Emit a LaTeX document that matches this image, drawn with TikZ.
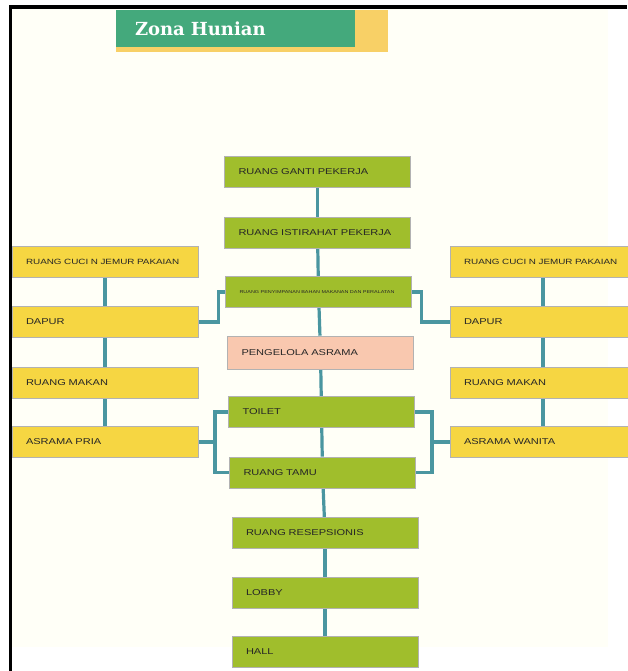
\documentclass[tikz,border=0pt]{standalone}
\usepackage{fontspec}
\setmainfont{Liberation Sans}
\newfontfamily\boxfont[FakeStretch=1.3]{Liberation Sans}
\newfontfamily\titlefont{DejaVu Serif}
\usetikzlibrary{backgrounds}
\definecolor{boxgreen}{HTML}{A0BE2C}
\definecolor{boxyellow}{HTML}{F6D642}
\definecolor{boxpink}{HTML}{F9C8AF}
\definecolor{titlegreen}{HTML}{44A97C}
\definecolor{titleyellow}{HTML}{F8D066}
\definecolor{linkteal}{HTML}{4A96A0}
\definecolor{pagetint}{HTML}{FFFFF7}
\begin{document}
\begin{tikzpicture}[x=1pt, y=-1pt,
    room/.style={rectangle, draw=black!30, line width=0.6pt, minimum height=31pt,
      text width=158pt, inner xsep=14pt, inner ysep=0pt, align=left,
      text=black!85, font=\boxfont\fontsize{8.5}{9}\selectfont},
    midroom/.style={room, fill=boxgreen},
    sideroom/.style={room, fill=boxyellow},
    staffroom/.style={room, fill=boxpink, minimum height=33pt},
    longlabel/.style={font=\boxfont\fontsize{7.6}{8}\selectfont},
    tinylabel/.style={font=\boxfont\fontsize{4.2}{5}\selectfont},
    titlebox/.style={rectangle, fill=titlegreen, minimum height=37pt, text width=201pt,
      inner xsep=19pt, inner ysep=0pt, align=left, text=white,
      font=\titlefont\bfseries\fontsize{18}{20}\selectfont},
    link/.style={draw=linkteal, line width=3.2pt}]
  \useasboundingbox (0,0) rectangle (627,671);
  % title
  \fill[titleyellow] (116,10) rectangle (388,52);
  \node[titlebox] (T) at (235.5,28.5) {Zona Hunian};
  % middle column
  \node[midroom] (G1) at (317.5,172) {RUANG GANTI PEKERJA};
  \node[midroom] (G2) at (317.5,232.5) {RUANG ISTIRAHAT PEKERJA};
  \node[midroom, tinylabel] (G3) at (318.5,292) {RUANG PENYIMPANAN BAHAN MAKANAN DAN PERALATAN};
  \node[staffroom] (G4) at (320.5,352.5) {PENGELOLA ASRAMA};
  \node[midroom] (G5) at (321.5,412) {TOILET};
  \node[midroom] (G6) at (322.5,472.5) {RUANG TAMU};
  \node[midroom] (G7) at (325,533) {RUANG RESEPSIONIS};
  \node[midroom] (G8) at (325,592.5) {LOBBY};
  \node[midroom] (G9) at (325,652) {HALL};
  % left column
  \node[sideroom, longlabel] (L1) at (105,262) {RUANG CUCI N JEMUR PAKAIAN};
  \node[sideroom] (L2) at (105,322) {DAPUR};
  \node[sideroom] (L3) at (105,382.5) {RUANG MAKAN};
  \node[sideroom] (L4) at (105,442) {ASRAMA PRIA};
  % right column
  \node[sideroom, longlabel] (R1) at (543,262) {RUANG CUCI N JEMUR PAKAIAN};
  \node[sideroom] (R2) at (543,322) {DAPUR};
  \node[sideroom] (R3) at (543,382.5) {RUANG MAKAN};
  \node[sideroom] (R4) at (543,442) {ASRAMA WANITA};
  \coordinate (JL) at (215,442);
  \coordinate (JR) at (432,442);
  \begin{scope}[on background layer]
    \fill[pagetint] (12,9) rectangle (608,647);
    \draw [link] (G1) to (G2);
    \draw [link] (G2) to (G3);
    \draw [link] (G3) to (G4);
    \draw [link] (G4) to (G5);
    \draw [link] (G5) to (G6);
    \draw [link] (G6) to (G7);
    \draw [link] (G7) to (G8);
    \draw [link] (G8) to (G9);
    \draw [link] (L1) to (L2);
    \draw [link] (L2) to (L3);
    \draw [link] (L3) to (L4);
    \draw [link] (R1) to (R2);
    \draw [link] (R2) to (R3);
    \draw [link] (R3) to (R4);
    \draw [link] (G3.west) -- ++(-7,0) |- (L2.east);
    \draw [link] (G3.east) -- ++(10,0) |- (R2.west);
    \draw [link] (G5.west) -| (JL) |- (G6.west);
    \draw [link] (L4.east) to (JL);
    \draw [link] (G5.east) -| (JR) |- (G6.east);
    \draw [link] (R4.west) to (JR);
  \end{scope}
  % frame
  \fill[black] (9,5) rectangle (627,9);
  \fill[black] (9,5) rectangle (12,671);
\end{tikzpicture}
\end{document}
